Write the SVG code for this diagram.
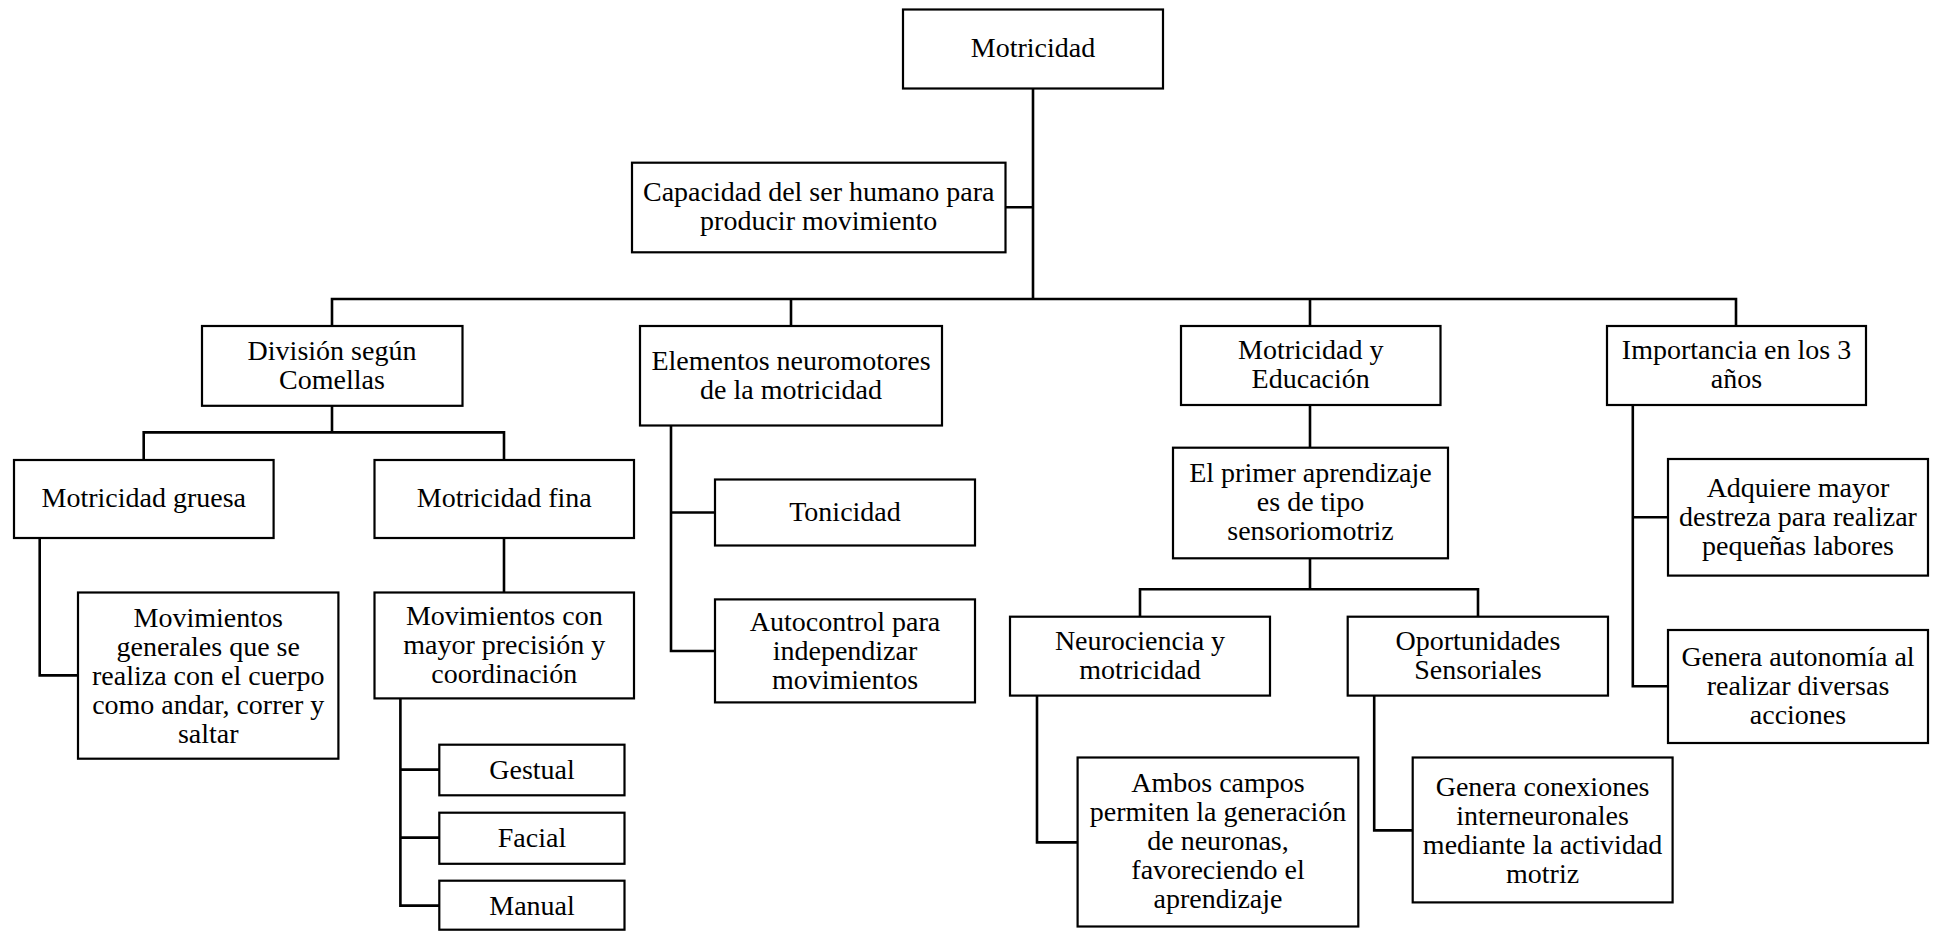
<svg xmlns="http://www.w3.org/2000/svg" width="1943" height="931" viewBox="0 0 1943 931">
<style>
.box{fill:#fff;stroke:#000;stroke-width:2.2}
.t{font-size:28px;fill:#000;text-anchor:middle}
.c{fill:none;stroke:#000;stroke-width:2.6;stroke-linecap:square;stroke-linejoin:miter}
</style>
<rect width="1943" height="931" fill="#fff"/>
<g id="connectors">
<path class="c" d="M1033,88.5V299M1005.5,207.3H1033M332,299H1736M332,299V326M791,299V326M1310,299V326M1736,299V326"/>
<path class="c" d="M332,405.8V432.4M143.7,432.4H504M143.7,432.4V460M504,432.4V460"/>
<path class="c" d="M39.7,538V675.4H78M504,538V592.5"/>
<path class="c" d="M400.4,698.4V905.6H439.3M400.4,769.6H439.3M400.4,837.6H439.3"/>
<path class="c" d="M671,425.5V651H715M671,512.5H715"/>
<path class="c" d="M1310,405V447.7M1310,558.3V589.3M1140,589.3H1478M1140,589.3V616.7M1478,589.3V616.7"/>
<path class="c" d="M1037,695.6V842.4H1077.6M1374.2,695.6V830.4H1412.7"/>
<path class="c" d="M1632.8,405V686.3H1668M1632.8,517.3H1668"/>
</g>
<g font-family="'Liberation Serif', 'DejaVu Serif', serif">
<g id="n-motricidad"><rect class="box" x="903" y="9.5" width="260" height="79"/><text class="t" x="1033" y="57">Motricidad</text></g>
<g id="n-capacidad"><rect class="box" x="632" y="162.7" width="373.5" height="89.6"/><text class="t" x="818.7" y="201">Capacidad del ser humano para</text><text class="t" x="818.7" y="230">producir movimiento</text></g>
<g id="n-division"><rect class="box" x="202" y="326" width="260.5" height="79.8"/><text class="t" x="332" y="359.5">División según</text><text class="t" x="332" y="388.5">Comellas</text></g>
<g id="n-elementos"><rect class="box" x="640" y="326" width="302" height="99.5"/><text class="t" x="791" y="370">Elementos neuromotores</text><text class="t" x="791" y="399">de la motricidad</text></g>
<g id="n-educacion"><rect class="box" x="1181" y="326" width="259.5" height="79"/><text class="t" x="1310.7" y="359">Motricidad y</text><text class="t" x="1310.7" y="388">Educación</text></g>
<g id="n-importancia"><rect class="box" x="1607" y="326" width="259" height="79"/><text class="t" x="1736.5" y="359">Importancia en los 3</text><text class="t" x="1736.5" y="388">años</text></g>
<g id="n-gruesa"><rect class="box" x="14" y="460" width="259.6" height="78"/><text class="t" x="143.8" y="507">Motricidad gruesa</text></g>
<g id="n-fina"><rect class="box" x="374.5" y="460" width="259.5" height="78"/><text class="t" x="504.3" y="507">Motricidad fina</text></g>
<g id="n-generales"><rect class="box" x="78" y="592.5" width="260.4" height="166.2"/><text class="t" x="208.2" y="626.5">Movimientos</text><text class="t" x="208.2" y="655.5">generales que se</text><text class="t" x="208.2" y="684.5">realiza con el cuerpo</text><text class="t" x="208.2" y="713.5">como andar, correr y</text><text class="t" x="208.2" y="742.5">saltar</text></g>
<g id="n-precision"><rect class="box" x="374.5" y="592.5" width="259.5" height="105.9"/><text class="t" x="504.3" y="625">Movimientos con</text><text class="t" x="504.3" y="654">mayor precisión y</text><text class="t" x="504.3" y="683">coordinación</text></g>
<g id="n-gestual"><rect class="box" x="439.3" y="744.7" width="185.2" height="50.6"/><text class="t" x="532" y="779">Gestual</text></g>
<g id="n-facial"><rect class="box" x="439.3" y="812.7" width="185.2" height="51.1"/><text class="t" x="532" y="847">Facial</text></g>
<g id="n-manual"><rect class="box" x="439.3" y="880.7" width="185.2" height="49"/><text class="t" x="532" y="914.5">Manual</text></g>
<g id="n-tonicidad"><rect class="box" x="715" y="479.5" width="260" height="66"/><text class="t" x="845" y="521">Tonicidad</text></g>
<g id="n-autocontrol"><rect class="box" x="715" y="599.4" width="260" height="103"/><text class="t" x="845" y="630.5">Autocontrol para</text><text class="t" x="845" y="659.5">independizar</text><text class="t" x="845" y="688.5">movimientos</text></g>
<g id="n-primer"><rect class="box" x="1173" y="447.7" width="275" height="110.6"/><text class="t" x="1310.5" y="481.5">El primer aprendizaje</text><text class="t" x="1310.5" y="510.5">es de tipo</text><text class="t" x="1310.5" y="539.5">sensoriomotriz</text></g>
<g id="n-neurociencia"><rect class="box" x="1010" y="616.7" width="260" height="78.9"/><text class="t" x="1140" y="649.5">Neurociencia y</text><text class="t" x="1140" y="678.5">motricidad</text></g>
<g id="n-oportunidades"><rect class="box" x="1347.7" y="616.7" width="260.3" height="78.9"/><text class="t" x="1477.9" y="649.5">Oportunidades</text><text class="t" x="1477.9" y="678.5">Sensoriales</text></g>
<g id="n-ambos"><rect class="box" x="1077.6" y="757.5" width="280.7" height="169"/><text class="t" x="1218" y="792">Ambos campos</text><text class="t" x="1218" y="821">permiten la generación</text><text class="t" x="1218" y="850">de neuronas,</text><text class="t" x="1218" y="879">favoreciendo el</text><text class="t" x="1218" y="908">aprendizaje</text></g>
<g id="n-conexiones"><rect class="box" x="1412.7" y="757.5" width="259.9" height="144.9"/><text class="t" x="1542.6" y="795.5">Genera conexiones</text><text class="t" x="1542.6" y="824.5">interneuronales</text><text class="t" x="1542.6" y="853.5">mediante la actividad</text><text class="t" x="1542.6" y="882.5">motriz</text></g>
<g id="n-adquiere"><rect class="box" x="1668" y="459" width="260" height="116.6"/><text class="t" x="1798" y="497">Adquiere mayor</text><text class="t" x="1798" y="526">destreza para realizar</text><text class="t" x="1798" y="555">pequeñas labores</text></g>
<g id="n-autonomia"><rect class="box" x="1668" y="630" width="260" height="113"/><text class="t" x="1798" y="665.5">Genera autonomía al</text><text class="t" x="1798" y="694.5">realizar diversas</text><text class="t" x="1798" y="723.5">acciones</text></g>
</g>
</svg>
